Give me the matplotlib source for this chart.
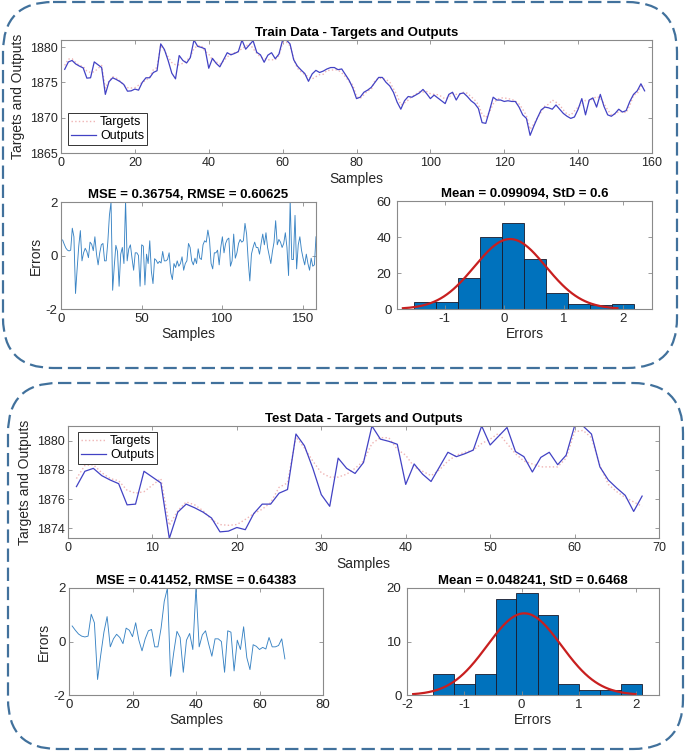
import numpy as np
import matplotlib
matplotlib.use("Agg")
import matplotlib.pyplot as plt
from matplotlib.patches import FancyBboxPatch

plt.rcParams['font.family'] = ['Liberation Sans', 'DejaVu Sans']
plt.rcParams['axes.unicode_minus'] = False

# ---- data ----
# test set (samples 1..68)
test_outputs = [1876.85, 1877.9, 1878.1, 1877.6, 1877.3, 1877.05, 1875.6, 1875.65, 1877.9, 1877.5,
                1877.1, 1873.3, 1875.1, 1875.65, 1875.4, 1875.1, 1874.7, 1873.75, 1873.8, 1874.05,
                1873.9, 1875.0, 1875.65, 1875.65, 1876.4, 1876.65, 1880.45, 1879.65, 1878.1, 1876.3,
                1875.5, 1878.8, 1878.1, 1877.75, 1878.5, 1881.0, 1880.1, 1879.95, 1879.75, 1877.0,
                1878.4, 1877.7, 1877.2, 1878.2, 1879.2, 1878.9, 1879.1, 1879.35, 1881.0, 1879.7,
                1880.3, 1880.9, 1879.25, 1878.9, 1877.85, 1878.85, 1879.2, 1878.35, 1879.0, 1881.0,
                1881.0, 1880.45, 1878.2, 1877.3, 1876.75, 1876.25, 1875.15, 1876.2]
test_targets = [1877.4, 1878.3, 1878.35, 1877.8, 1877.4, 1877.25, 1876.6, 1876.4, 1876.5, 1876.95,
                1877.4, 1874.2, 1875.2, 1875.8, 1875.6, 1875.2, 1874.6, 1874.25, 1874.2, 1874.25,
                1874.6, 1875.0, 1875.3, 1875.75, 1876.8, 1877.1, 1880.25, 1879.5, 1878.6, 1877.8,
                1877.5, 1877.5, 1877.7, 1878.1, 1878.6, 1879.8, 1880.2, 1880.2, 1879.4, 1879.0,
                1878.2, 1877.9, 1877.6, 1878.0, 1878.6, 1879.0, 1879.2, 1879.35, 1879.8, 1880.1,
                1880.5, 1879.8, 1879.1, 1878.6, 1878.4, 1878.2, 1878.2, 1878.2, 1878.8, 1880.6,
                1880.7, 1880.2, 1878.3, 1877.0, 1876.5, 1876.1, 1875.8, 1875.5]
test_errors = [0.58, 0.42, 0.28, 0.2, 0.17, 0.2, 1.02, 0.7, -1.42, -0.5,
               0.35, 0.93, -0.2, 0.1, 0.27, 0.15, -0.08, 0.5, 0.42, 0.18,
               0.7, 0.05, -0.35, 0.1, 0.4, 0.45, -0.2, -0.2, 0.5, 1.5,
               2.0, -1.3, -0.4, 0.38, 0.15, -1.15, 0.05, 0.3, -0.3, 2.05,
               -0.2, 0.25, 0.4, -0.1, -0.55, 0.1, 0.1, 0.0, -1.15, 0.4,
               0.35, -1.1, 0.05, -0.3, 0.55, -0.6, -1.05, -0.12, -0.18, -0.3,
               -0.22, -0.28, 0.15, -0.2, -0.2, -0.15, 0.1, -0.65]

# train set: same first 68 samples, then 69..158
train_outputs = test_outputs + [
    1876.7, 1876.4, 1876.6, 1876.9, 1877.1, 1877.1, 1876.8, 1876.9, 1876.1, 1875.3,
    1874.2, 1872.7, 1872.9, 1873.6, 1873.9, 1874.3, 1875.0, 1875.7, 1875.7, 1875.0,
    1874.5, 1873.6, 1872.2, 1871.2, 1872.4, 1873.0, 1872.9, 1873.2, 1873.5, 1874.0,
    1873.4, 1872.7, 1873.2, 1872.8, 1872.4, 1872.0, 1873.3, 1873.6, 1872.5, 1873.4,
    1873.5, 1873.0, 1872.4, 1872.0, 1871.3, 1869.3, 1869.2, 1871.0, 1872.9, 1872.5,
    1872.5, 1872.3, 1872.4, 1872.3, 1872.3, 1871.5, 1870.4, 1869.9, 1867.5, 1868.8,
    1870.0, 1871.1, 1871.5, 1871.4, 1871.2, 1871.8, 1871.2, 1870.6, 1870.2, 1869.9,
    1870.1, 1871.2, 1872.7, 1870.4, 1872.5, 1872.8, 1871.5, 1873.3, 1871.6, 1870.4,
    1870.2, 1870.6, 1871.2, 1870.8, 1871.0, 1872.3, 1873.3, 1873.8, 1874.8, 1873.8]
train_targets = test_targets + [
    1875.8, 1876.1, 1876.15, 1876.7, 1876.7, 1876.8, 1876.75, 1876.35, 1875.8, 1875.1,
    1874.65, 1873.0, 1872.7, 1873.25, 1873.8, 1874.0, 1875.25, 1875.6, 1875.55, 1875.4,
    1875.05, 1874.1, 1873.15, 1871.8, 1872.1, 1872.5, 1873.0, 1873.3, 1873.7, 1873.65,
    1873.7, 1873.4, 1873.3, 1873.25, 1873.0, 1872.65, 1872.9, 1873.4, 1873.3, 1873.3,
    1873.6, 1873.45, 1873.0, 1872.5, 1871.85, 1870.5, 1870.0, 1870.8, 1871.95, 1872.55,
    1872.8, 1872.8, 1872.7, 1872.6, 1872.35, 1871.95, 1871.2, 1870.3, 1868.35, 1869.1,
    1870.0, 1870.8, 1871.65, 1871.9, 1872.5, 1872.2, 1871.8, 1871.1, 1870.5, 1870.35,
    1870.95, 1871.5, 1871.95, 1872.45, 1872.35, 1872.65, 1873.0, 1872.8, 1872.0, 1871.1,
    1870.4, 1870.5, 1870.85, 1870.85, 1870.7, 1871.75, 1873.2, 1873.4, 1874.45, 1874.5]
train_errors = test_errors + [
    -0.9, -0.3, -0.45, -0.2, -0.4, -0.3, -0.05, -0.55, -0.3, -0.2,
    0.45, 0.3, -0.2, -0.35, -0.1, -0.3, 0.25, -0.1, -0.15, 0.4,
    0.55, 0.5, 0.95, 0.6, -0.3, -0.5, 0.1, 0.1, 0.2, -0.35,
    0.3, 0.7, 0.1, 0.45, 0.6, 0.65, -0.4, -0.2, 0.8, -0.1,
    0.1, 0.45, 0.6, 0.5, 0.55, 1.2, 0.8, -0.2, -0.95, 0.05,
    0.3, 0.5, 0.3, 0.3, 0.05, 0.45, 0.8, 0.4, 0.85, 0.3,
    0.0, -0.3, 0.15, 0.5, 1.3, 0.4, 0.6, 0.5, 0.3, 0.45,
    0.85, 0.3, -0.75, 2.05, -0.15, -0.15, 1.5, -0.5, 0.4, 0.7,
    0.2, -0.1, -0.35, 0.05, -0.3, -0.55, -0.1, -0.4, -0.35, 0.7]

# histograms (bin edges and counts) and the stats in the titles
train_edges = [-1.52, -1.15, -0.78, -0.41, -0.04, 0.33, 0.70, 1.07, 1.44, 1.81, 2.18]
train_counts = [4, 4, 17, 40, 48, 28, 9, 3, 2, 3]
test_edges = [-1.54, -1.18, -0.81, -0.45, -0.09, 0.28, 0.64, 1.00, 1.37, 1.73, 2.10]
test_counts = [4, 2, 4, 18, 19, 15, 2, 1, 1, 2]
train_mse, train_rmse = 0.36754, 0.60625
test_mse, test_rmse = 0.41452, 0.64383
train_mean, train_std = 0.099094, 0.6
test_mean, test_std = 0.048241, 0.6468

# ---- figure ----
W, H = 685, 751
fig = plt.figure(figsize=(W / 100, H / 100), dpi=100)

def box(l, t, r, b):
    # pixel box -> figure fraction
    return [l / W, 1 - b / H, (r - l) / W, (b - t) / H]

txt = '#262626'
frame = '#8a8a8a'

def style(ax, ts=9):
    for s in ax.spines.values():
        s.set_color(frame)
        s.set_linewidth(0.8)
    ax.tick_params(direction='in', top=True, right=True, length=3, width=0.6,
                   color=frame, labelcolor=txt, labelsize=ts)
    ax.tick_params(axis='x', pad=3)
    ax.tick_params(axis='y', pad=2.5)

# dashed rounded frames behind everything
bg = fig.add_axes([0, 0, 1, 1], zorder=-5)
bg.set_xlim(0, W)
bg.set_ylim(H, 0)
bg.axis('off')
for (x0, y0, x1, y1) in [(3, 2, 677, 368), (8, 383, 683, 749)]:
    bg.add_patch(FancyBboxPatch((x0, y0), x1 - x0, y1 - y0,
                                boxstyle='round,pad=0,rounding_size=50',
                                fill=False, ec='#41719c', lw=1.6, ls=(0, (6, 2.6))))

def main_plot(rect, x_t, y_t, y_o, title, xlim, ylim, yticks, xticks, leg_loc, leg_anchor):
    ax = fig.add_axes(rect)
    ax.plot(x_t, y_t, ls=':', color='#efb4b4', lw=1.0, label='Targets')
    ax.plot(x_t, y_o, color='#4242c4', lw=0.9, label='Outputs')
    ax.set_xlim(*xlim)
    ax.set_ylim(*ylim)
    ax.set_xticks(xticks)
    ax.set_yticks(yticks)
    style(ax, 9)
    ax.set_title(title, fontsize=9.5, fontweight='bold', pad=3)
    ax.set_xlabel('Samples', fontsize=10, color=txt, labelpad=2)
    ax.set_ylabel('Targets and Outputs', fontsize=10, color=txt, labelpad=3)
    leg = ax.legend(loc=leg_loc, bbox_to_anchor=leg_anchor, fontsize=9, fancybox=False,
                    borderaxespad=0, handlelength=2.0, handletextpad=0.3,
                    borderpad=0.25, labelspacing=0.15, framealpha=1)
    leg.get_frame().set_edgecolor('#333333')
    leg.get_frame().set_linewidth(0.7)
    return ax

def err_plot(rect, e, mse, rmse, xlim, xticks):
    ax = fig.add_axes(rect)
    ax.plot(range(1, len(e) + 1), e, color='#3a84c4', lw=0.65)
    ax.set_xlim(*xlim)
    ax.set_ylim(-2, 2)
    ax.set_xticks(xticks)
    ax.set_yticks([-2, 0, 2])
    style(ax, 9.5)
    ax.set_title('MSE = %g, RMSE = %g' % (mse, rmse), fontsize=9.5, fontweight='bold', pad=3)
    ax.set_xlabel('Samples', fontsize=10, color=txt, labelpad=1)
    ax.set_ylabel('Errors', fontsize=10, color=txt, labelpad=2)
    return ax

def hist_plot(rect, edges, counts, mu, sd, xlim, xticks, ylim, yticks):
    ax = fig.add_axes(rect)
    edges = np.array(edges)
    ax.bar(edges[:-1], counts, width=np.diff(edges), align='edge',
           color='#0072bd', edgecolor='#1a1a2a', lw=0.6)
    # fitted normal curve, scaled to the counts
    n = sum(counts)
    bw = np.mean(np.diff(edges))
    xs = np.linspace(mu - 3 * sd, mu + 3 * sd, 200)
    ys = n * bw / (sd * np.sqrt(2 * np.pi)) * np.exp(-0.5 * ((xs - mu) / sd) ** 2)
    ax.plot(xs, ys, color='#c81f1f', lw=1.6)
    ax.set_xlim(*xlim)
    ax.set_ylim(*ylim)
    ax.set_xticks(xticks)
    ax.set_yticks(yticks)
    style(ax, 9.5)
    ax.tick_params(axis='y', pad=4)
    ax.set_title('Mean = %g, StD = %g' % (mu, sd), fontsize=9.5, fontweight='bold', pad=3)
    ax.set_xlabel('Errors', fontsize=10, color=txt, labelpad=1)
    return ax

# train block
x_train = list(range(1, len(train_outputs) + 1))
main_plot(box(61, 40, 652, 153), x_train, train_targets, train_outputs,
          'Train Data - Targets and Outputs', (0, 160), (1865, 1881),
          [1865, 1870, 1875, 1880], range(0, 161, 20), 'lower left', (0.012, 0.07))
err_plot(box(61, 202, 316, 309), train_errors, train_mse, train_rmse, (0, 158), [0, 50, 100, 150])
hist_plot(box(397, 201, 652, 309), train_edges, train_counts, train_mean, train_std,
          (-1.8, 2.48), [-1, 0, 1, 2], (0, 60), [0, 20, 40, 60])

# test block
x_test = list(range(1, len(test_outputs) + 1))
main_plot(box(68, 426, 659, 538), x_test, test_targets, test_outputs,
          'Test Data - Targets and Outputs', (0, 70), (1873.33, 1881),
          [1874, 1876, 1878, 1880], range(0, 71, 10), 'upper left', (0.017, 0.946))
err_plot(box(69, 588, 323, 695), test_errors, test_mse, test_rmse, (0, 80), [0, 20, 40, 60, 80])
hist_plot(box(407, 588, 659, 695), test_edges, test_counts, test_mean, test_std,
          (-2, 2.4), [-2, -1, 0, 1, 2], (0, 20), [0, 10, 20])

fig.savefig('out.png', dpi=100)
